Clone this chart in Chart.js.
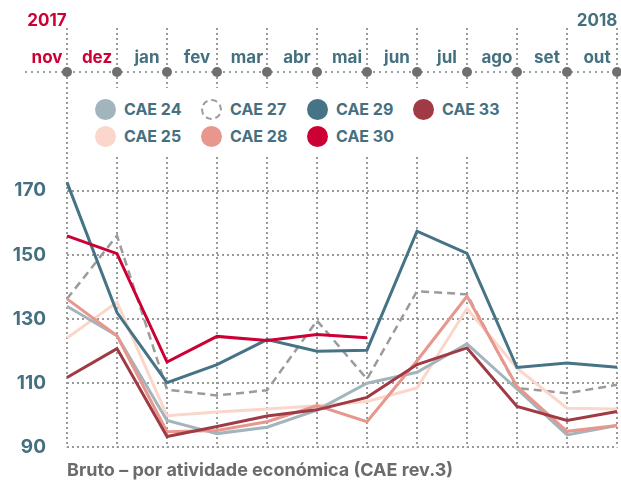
<!DOCTYPE html>
<html lang="pt">
<head>
<meta charset="UTF-8">
<title>CAE</title>
<script src="https://cdn.jsdelivr.net/npm/chart.js"></script>
<style>
  body { margin: 0; background: #fff; }
  #wrap { position: relative; width: 621px; height: 481px; }
  #legend {
    position: absolute; left: 70px; top: 88px; width: 444px; height: 66px;
    background: #fff; box-sizing: border-box; padding: 7.5px 0 0 25px;
    display: grid; grid-auto-flow: column;
    grid-template-rows: repeat(2, 27px); grid-template-columns: repeat(4, 106px);
    font: 700 16px Inter, sans-serif; color: #45707f;
  }
  .item { display: flex; align-items: center; gap: 8px; white-space: nowrap; }
  .dot { width: 21px; height: 21px; border-radius: 50%; box-sizing: border-box; flex: none; }
</style>
</head>
<body>
<div id="wrap">
  <canvas id="chart"></canvas>
  <div id="legend"></div>
</div>
<script>
const months = ['nov', 'dez', 'jan', 'fev', 'mar', 'abr', 'mai', 'jun', 'jul', 'ago', 'set', 'out'];
const years = ['2017', '', '', '', '', '', '', '', '', '', '', '2018'];
const yTicks = [90, 110, 130, 150, 170];

const cae24 = [134, 124.8, 98.4, 94.3, 96.3, 101.6, 110, 113.4, 122.3, 108.2, 93.9, 96.8];
const cae25 = [124.1, 135.2, 99.9, 101, 102, 103, 104.3, 108.5, 133.3, 114.7, 102.2, 102];
const cae27 = [136.3, 156, 108, 106.2, 107.8, 129.5, 111.3, 138.7, 137.7, 108.5, 106.9, 109.5];
const cae28 = [136.3, 124.8, 94.9, 95.3, 98, 103, 98, 117, 137.1, 109, 95, 96.8];
const cae29 = [172.6, 132, 110.2, 115.8, 123.6, 120, 120.3, 157.4, 150.5, 114.9, 116.3, 115];
const cae30 = [155.9, 150.4, 116.6, 124.6, 123.3, 125.2, 124.2, null, null, null, null, null];
const cae33 = [111.8, 120.8, 93.4, 96.5, 99.8, 101.7, 105.6, 115.8, 121, 102.75, 98.4, 101.2];

const names = ['CAE 24', 'CAE 25', 'CAE 27', 'CAE 28', 'CAE 29', 'CAE 30', 'CAE 33'];
const values = [cae24, cae25, cae27, cae28, cae29, cae30, cae33];
const colors = ['#a3b5bc', '#fad7ca', '#9b9b9b', '#e7978d', '#467385', '#cc0035', '#a03a45'];
const layer = [4, 5, 6, 3, 1, 0, 2];   // lower = drawn on top

const RED = '#cc0035';
const TEAL = '#45707f';
const GRID = '#9a9a9a';
const FONT = 'Inter, sans-serif';

// legend (html, column by column like the original)
const legend = document.getElementById('legend');
names.forEach((n, i) => {
  const item = document.createElement('div');
  item.className = 'item';
  const dot = document.createElement('span');
  dot.className = 'dot';
  if (n === 'CAE 27') dot.style.border = '2px dashed ' + colors[i];
  else dot.style.background = colors[i];
  item.appendChild(dot);
  item.appendChild(document.createTextNode(n));
  legend.appendChild(item);
});

// top axis line with month dots
const topAxis = {
  id: 'topAxis',
  afterDraw(chart) {
    const { ctx, chartArea, scales } = chart;
    ctx.save();
    ctx.strokeStyle = '#8fa5ad';
    ctx.lineWidth = 2;
    ctx.setLineDash([2, 4]);
    ctx.beginPath();
    ctx.moveTo(chartArea.left - 42, chartArea.top);
    ctx.lineTo(chart.width, chartArea.top);
    ctx.stroke();
    ctx.setLineDash([]);
    ctx.fillStyle = '#6f6f6f';
    months.forEach((m, i) => {
      ctx.beginPath();
      ctx.arc(scales.x.getPixelForValue(i), chartArea.top, 5, 0, Math.PI * 2);
      ctx.fill();
    });
    ctx.restore();
  }
};

const chart = new Chart(document.getElementById('chart'), {
  type: 'line',
  data: {
    labels: months.map((m, i) => [years[i], m]),
    datasets: names.map((n, i) => ({
      label: n,
      data: values[i],
      borderColor: colors[i],
      borderWidth: n === 'CAE 27' ? 2.5 : 3,
      borderDash: n === 'CAE 27' ? [8, 5] : [],
      pointRadius: 0,
      tension: 0,
      fill: false,
      order: layer[i]
    }))
  },
  options: {
    responsive: true,
    maintainAspectRatio: false,
    animation: false,
    layout: { padding: { top: 0, right: 4, left: 0, bottom: 0 } },
    plugins: {
      legend: { display: false },
      tooltip: { enabled: false },
      title: {
        display: true,
        text: 'Bruto – por atividade económica (CAE rev.3)',
        position: 'bottom',
        align: 'start',
        fullSize: false,
        color: '#6b6b6b',
        font: { family: FONT, size: 18, weight: 'bold' },
        padding: { top: 12, bottom: 0 }
      }
    },
    scales: {
      x: {
        position: 'top',
        offset: false,
        afterFit: s => { s.height = 72; },
        grid: {
          color: GRID, lineWidth: 2, tickLength: 44,
          tickColor: GRID, tickWidth: 2, tickBorderDash: [2, 3]
        },
        border: { display: false, dash: [2, 3] },
        ticks: {
          autoSkip: false, maxRotation: 0, labelOffset: -20, padding: -48.5,
          font: { family: FONT, size: 17, weight: 'bold', lineHeight: '37px' },
          color: c => c.index < 2 ? RED : TEAL
        }
      },
      y: {
        min: 90,
        max: 207,
        afterBuildTicks: s => { s.ticks = yTicks.map(v => ({ value: v })); },
        afterFit: s => { s.width = 67; },
        grid: { color: GRID, lineWidth: 2, drawTicks: false },
        border: { display: false, dash: [2, 3] },
        ticks: {
          padding: 21,
          color: TEAL,
          font: { family: FONT, size: 19, weight: 'bold' }
        }
      }
    }
  },
  plugins: [topAxis]
});
</script>
</body>
</html>
